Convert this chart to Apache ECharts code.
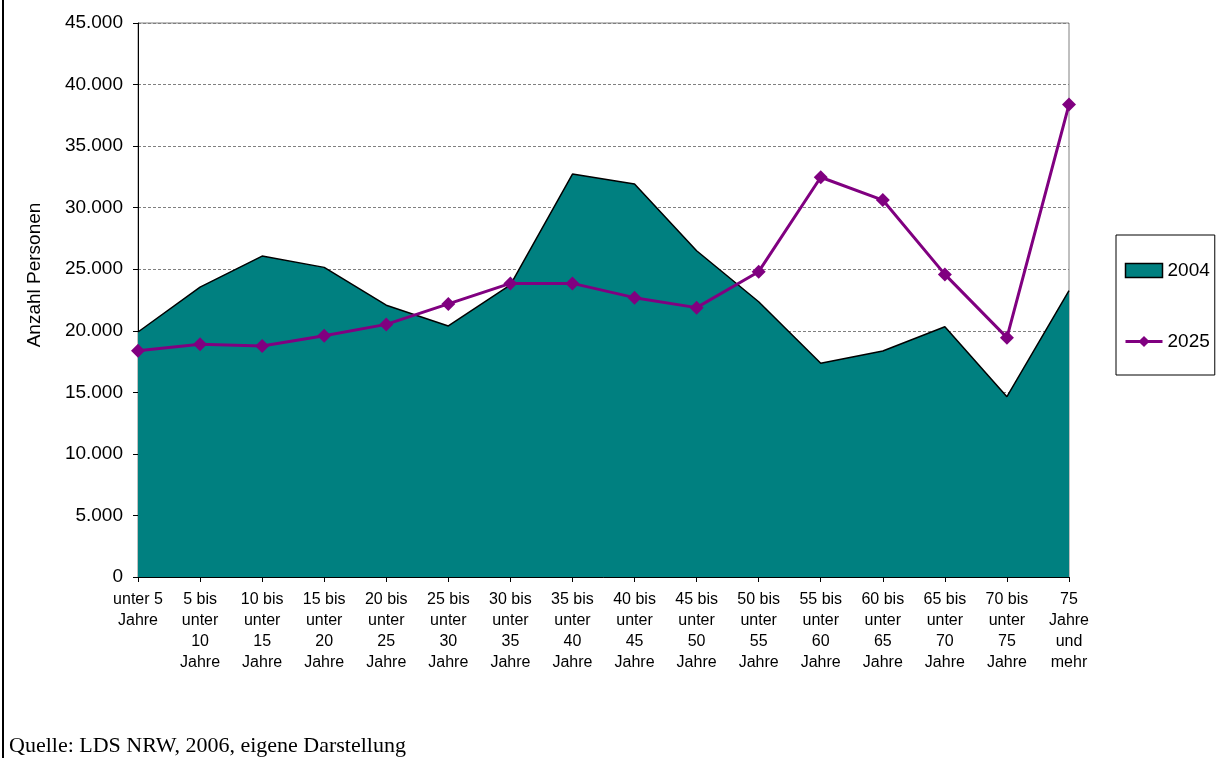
<!DOCTYPE html>
<html>
<head>
<meta charset="utf-8">
<script src="https://cdn.jsdelivr.net/npm/echarts@6/dist/echarts.min.js"></script>
<style>
html,body{margin:0;padding:0;background:#fff;}
#c{width:1225px;height:758px;}
</style>
</head>
<body>
<div id="c"></div>
<script>
const categories = [
  "unter 5\nJahre",
  "5 bis\nunter\n10\nJahre",
  "10 bis\nunter\n15\nJahre",
  "15 bis\nunter\n20\nJahre",
  "20 bis\nunter\n25\nJahre",
  "25 bis\nunter\n30\nJahre",
  "30 bis\nunter\n35\nJahre",
  "35 bis\nunter\n40\nJahre",
  "40 bis\nunter\n45\nJahre",
  "45 bis\nunter\n50\nJahre",
  "50 bis\nunter\n55\nJahre",
  "55 bis\nunter\n60\nJahre",
  "60 bis\nunter\n65\nJahre",
  "65 bis\nunter\n70\nJahre",
  "70 bis\nunter\n75\nJahre",
  "75\nJahre\nund\nmehr"
];
const values2004 = [19900, 23550, 26070, 25150, 22080, 20390, 23720, 32730, 31920, 26500, 22360, 17360, 18360, 20330, 14650, 23260];
const values2025 = [18380, 18900, 18760, 19600, 20520, 22180, 23850, 23850, 22690, 21880, 24800, 32470, 30620, 24580, 19440, 38370];
const yMin = 0, yMax = 45000, yStep = 5000;
const axisTitle = "Anzahl Personen";
const sourceText = "Quelle: LDS NRW, 2006, eigene Darstellung";

function fmt(v){ return String(v).replace(/\B(?=(\d{3})+(?!\d))/g, '.'); }

const chart = echarts.init(document.getElementById('c'), null, {renderer:'canvas'});
chart.setOption({
  animation: false,
  backgroundColor: '#fff',
  textStyle: { fontFamily: 'Liberation Sans, Arial, sans-serif' },
  grid: { left: 138, top: 23, right: 156, bottom: 181, show: true, borderColor: '#808080', borderWidth: 1, backgroundColor: 'transparent' },
  legend: {
    orient: 'vertical',
    left: 1116, top: 235,
    padding: [26, 5, 24, 8],
    itemGap: 52,
    itemWidth: 37, itemHeight: 14,
    borderColor: '#000', borderWidth: 1,
    textStyle: { fontSize: 19, color: '#000' },
    data: [
      { name: '2004', icon: 'rect', itemStyle: { color: '#008080', borderColor: '#000', borderWidth: 1.5 } },
      { name: '2025', lineStyle: { width: 3, color: '#800080' } }
    ]
  },
  xAxis: {
    type: 'category',
    data: categories,
    boundaryGap: false,
    axisLine: { show: true, lineStyle: { color: '#000', width: 1 } },
    axisTick: { show: true, length: 5, interval: 0, lineStyle: { color: '#000' } },
    axisLabel: { interval: 0, color: '#000', fontSize: 16, lineHeight: 21, margin: 12, align: 'center' },
    splitLine: { show: false }
  },
  yAxis: {
    type: 'value',
    min: yMin, max: yMax, interval: yStep,
    axisLine: { show: true, lineStyle: { color: '#000', width: 1 } },
    axisTick: { show: true, length: 5, lineStyle: { color: '#000' } },
    axisLabel: { color: '#000', fontSize: 19, margin: 15, formatter: fmt },
    splitLine: { show: true, lineStyle: { color: '#808080', type: [3,2], width: 1 } }
  },
  series: [
    {
      name: '2004', type: 'line', data: values2004,
      symbol: 'none', z: 2,
      lineStyle: { color: '#000', width: 1.5 },
      itemStyle: { color: '#008080' },
      areaStyle: { color: '#008080', opacity: 1, origin: 'start' }
    },
    {
      name: '2025', type: 'line', data: values2025,
      symbol: 'diamond', symbolSize: 14, z: 3,
      lineStyle: { color: '#800080', width: 3 },
      itemStyle: { color: '#800080' }
    }
  ],
  graphic: [
    { type: 'line', shape: { x1: 3, y1: 0, x2: 3, y2: 758 }, style: { stroke: '#000', lineWidth: 2 } },
    { type: 'text', x: 35, y: 275, rotation: Math.PI/2,
      style: { text: axisTitle, fontSize: 19, fill: '#000', align: 'center', verticalAlign: 'middle', fontFamily: 'Liberation Sans, Arial, sans-serif' } },
    { type: 'text', x: 9, y: 746, z: 10,
      style: { text: sourceText, fontSize: 22, fill: '#000', align: 'left', verticalAlign: 'middle', fontFamily: 'Liberation Serif, Times New Roman, serif' } }
  ]
});
</script>
</body>
</html>
